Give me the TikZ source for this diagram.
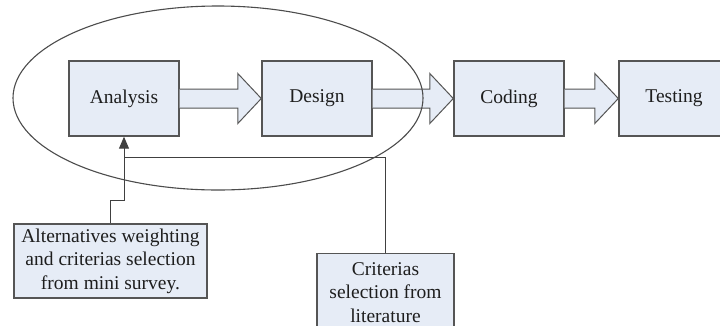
\documentclass[tikz,border=0pt]{standalone}
\usepackage{fontspec}
\setmainfont{Liberation Serif}
\usetikzlibrary{arrows.meta,calc,shapes.geometric}
\definecolor{boxfill}{RGB}{230,236,246}
\definecolor{boxline}{RGB}{85,85,85}
\definecolor{txt}{RGB}{30,30,30}
\tikzset{
  phase/.style={draw=boxline, line width=1.4pt, fill=boxfill, minimum width=110pt, minimum height=75pt, inner sep=0pt, text=txt, font=\fontsize{19.5}{23.5}\selectfont},
  note/.style={draw=boxline, line width=1.4pt, fill=boxfill, inner sep=0pt, text=txt, align=center, font=\fontsize{19.5}{23.5}\selectfont},
  blockarrow/.style={draw=boxline, line width=1pt, fill=boxfill, line join=miter},
  feed/.style={draw=black!75, line width=1pt},
}
\begin{document}
\begin{tikzpicture}[x=1pt,y=-1pt]
\useasboundingbox (0,0) rectangle (720,325);
\clip (0,0) rectangle (720,325);
\fill[white] (0,0) rectangle (720,325);
% phase boxes
\node[phase] (an) at (124,98.5) {Analysis};
\node[phase] (de) at (317,98.5) {Design};
\node[phase] (co) at (509,98.5) {Coding};
\node[phase] (te) at (674,98.5) {Testing};
% note boxes
\node[note, minimum width=193pt, minimum height=74pt] (alt) at (110.5,261) {Alternatives weighting\\and criterias selection\\from mini survey.};
\node[note, minimum width=137pt, minimum height=77pt, anchor=north] (cri) at (385.5,253) {Criterias\\selection from\\literature};
\fill[boxfill] ($(cri.south west)+(0.7,0)$) rectangle ($(cri.south east)+(-0.7,10)$);
\draw[boxline, line width=1.4pt] (cri.south west) -- ++(0,10) (cri.south east) -- ++(0,10);
% block arrows
\foreach \s/\t in {an/de, de/co, co/te}{
  \draw[blockarrow]
    ($(\s.east)+(0,-9.5)$) -- ($(\t.west)+(-23.5,-9.5)$) -- ($(\t.west)+(-23.5,-25)$)
    -- (\t.west) -- ($(\t.west)+(-23.5,25)$) -- ($(\t.west)+(-23.5,9.5)$)
    -- ($(\s.east)+(0,9.5)$);
}
% feedback lines
\coordinate (bend) at (124,200);
\coordinate (join) at (124,157);
\draw[feed] (alt.north -| 110.5,0) -- (110.5,200) -- (bend) -- (join);
\draw[feed, -{Triangle[width=10pt,length=12pt]}] (join) -- (an.south);
\draw[feed] (cri.north) |- (join);
% ellipse
\node[draw=black!70, line width=1.1pt, ellipse, minimum width=410pt, minimum height=184pt, inner sep=0pt] (grp) at (218,98) {};
\end{tikzpicture}
\end{document}
